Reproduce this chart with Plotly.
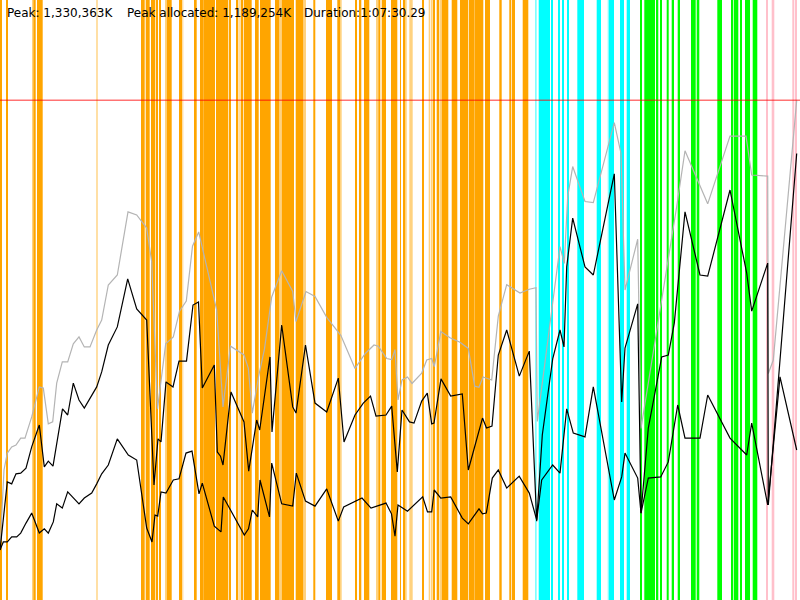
import plotly.graph_objects as go

# ---- data (time axis in sample units 0..800, memory in MB) ----
peak_k = 1330363
peak_alloc_k = 1189254
duration = "1:07:30.29"

peak_x = [0, 4, 7.3, 11.7, 16, 20.7, 25, 31.7, 39.3, 43.3,
          48.3, 52.7, 56.7, 62.3, 67.7, 73.3, 79, 84.3, 90, 96.7,
          101.7, 108.3, 117.3, 128, 136.7, 146.7, 151.7, 157.5, 165.7, 173.3,
          179.5, 186.3, 192.5, 198.7, 216.7, 223, 230.5, 244, 248.3, 252.3,
          258.5, 264.5, 271.7, 281.7, 292.7, 296, 306, 315, 326.7, 340.8,
          355, 365.3, 374, 378.3, 386.7, 391.7, 395, 398, 402, 407.5,
          412, 421.7, 426.7, 431.7, 434.3, 440.8, 450, 460, 468.3, 474.7,
          479, 483, 491.7, 498.3, 506.7, 520, 529.3, 536, 537.3, 560,
          564.3, 567.7, 572.7, 585, 593.3, 614.3, 621, 625, 637.7, 641,
          676.7, 685, 707.7, 730, 746, 751.7, 767.7, 768.3, 773.3, 796.7]
peak_mb = [130, 338, 382, 398, 403, 421, 421, 476, 554, 551,
           458, 463, 564, 619, 619, 666, 684, 658, 658, 702,
           728, 819, 845, 1009, 1001, 967, 879, 497, 666, 684,
           751, 777, 920, 957, 754, 502, 660, 637, 603, 486,
           580, 653, 788, 856, 802, 724, 802, 789, 735, 688,
           602, 641, 663, 660, 628, 625, 651, 520, 572, 580,
           563, 590, 624, 628, 607, 698, 682, 670, 654, 556,
           553, 580, 572, 738, 820, 798, 808, 812, 464, 919,
           875, 1049, 1127, 1036, 1033, 1241, 1161, 806, 938, 446,
           1023, 1168, 1030, 1206, 1206, 1105, 1102, 589, 624, 1299]

alloc_x = [0, 7.3, 11.7, 16, 20.7, 26, 31.7, 39.3, 44.3, 48.3,
           53, 62.5, 67.7, 73.3, 79, 84.3, 96.7, 101.7, 108.3, 117.3,
           127.7, 136.7, 146.7, 154, 158, 161, 166, 173, 179, 186.5,
           193, 198.5, 202.3, 214.3, 217.3, 220.5, 223, 231, 244, 248.7,
           256.7, 259.7, 270, 272, 281.7, 292.7, 296, 305.5, 315, 326.7,
           338.3, 344, 355, 363.3, 370.5, 376, 386, 391.7, 397.3, 402,
           409.5, 414, 421.7, 427.3, 431.7, 434, 441, 450.7, 462.3, 468.3,
           482.5, 486.5, 492, 498.3, 506.7, 519.3, 529.3, 536.7, 542.3, 552.7,
           560, 564, 566.7, 572.7, 585, 593.3, 614.3, 621.7, 625, 637.7,
           641, 648.3, 661.7, 668.3, 674.3, 685, 700, 707.7, 730, 746.7,
           751.7, 767.7, 768.3, 796.7]
alloc_mb = [130, 307, 302, 328, 330, 343, 398, 455, 346, 361,
            348, 497, 481, 564, 520, 499, 554, 593, 663, 710,
            835, 757, 728, 299, 419, 411, 567, 554, 621, 621,
            767, 775, 551, 611, 385, 374, 351, 541, 463, 335,
            468, 442, 632, 437, 715, 502, 486, 663, 512, 489,
            577, 411, 481, 512, 530, 478, 481, 504, 333, 494,
            463, 460, 517, 538, 458, 460, 575, 530, 536, 338,
            473, 447, 452, 637, 702, 582, 647, 205, 429, 627,
            702, 658, 866, 993, 866, 845, 1108, 515, 655, 770,
            226, 447, 632, 637, 720, 1009, 845, 842, 1066, 850,
            751, 876, 247, 1161]

low_x = [0, 3.3, 7.3, 11.7, 16.7, 20.7, 26, 31.7, 39.3, 44.3,
         48.3, 53.3, 56.7, 62.3, 67.7, 79, 84.3, 91.7, 96.7, 101.7,
         108.3, 117.3, 128.3, 136.7, 146.7, 152, 155, 157.7, 161, 166,
         173.3, 179, 186, 192, 199, 202.3, 214.3, 221, 223.3, 244.3,
         248.5, 252.3, 257.7, 260, 269.5, 271.7, 281.7, 292.7, 296.3, 305.5,
         315, 326.7, 338.3, 343.7, 362, 371, 386, 391.5, 395, 398,
         407.5, 422.7, 427.5, 431.7, 434.2, 440.8, 450.7, 462.3, 468.3, 479,
         482.5, 486.3, 492.3, 498.3, 506.7, 519.2, 529.3, 536.7, 541.7, 552.7,
         560, 566.7, 573.3, 585, 593.3, 614.3, 621.7, 625, 637.7, 641,
         648.3, 660.7, 668.3, 677.7, 685, 700, 707.7, 730, 746.7, 751.7,
         767.7, 780, 796.7]
low_mb = [130, 151, 151, 164, 164, 174, 200, 226, 174, 185,
          174, 203, 250, 239, 281, 250, 265, 278, 302, 328,
          351, 419, 377, 364, 187, 151, 221, 218, 281, 278,
          312, 315, 382, 387, 276, 304, 192, 177, 268, 169,
          185, 234, 216, 312, 216, 356, 250, 244, 330, 257,
          244, 289, 205, 242, 265, 239, 252, 224, 166, 247,
          231, 268, 229, 229, 286, 265, 268, 213, 198, 237,
          224, 226, 317, 338, 291, 322, 278, 208, 312, 351,
          330, 497, 434, 424, 554, 260, 320, 382, 317, 226,
          317, 320, 359, 507, 421, 421, 533, 421, 377, 460,
          247, 580, 390]

# event bands: start, end, kind
band_start = [0, 6, 32, 33.3, 37, 96.3, 141, 145.7, 151, 156.3,
              159, 165, 166.7, 179, 182.3, 194, 200, 203.3, 216, 229.3,
              236, 239.3, 241.7, 244, 255, 260, 275, 279.3, 281.7, 295.7,
              303.3, 313.3, 326, 330.7, 337.3, 340, 355, 359, 364, 376,
              378.3, 381.7, 391, 400, 403.3, 404.7, 409.3, 422.7, 428.7, 430.7,
              433.3, 436.7, 440, 441.7, 451.7, 460, 469, 474.3, 480, 485,
              499.3, 509.3, 512, 522.7,
              535, 538.7, 551.7, 558.3, 562, 567.3, 577.3, 596.7, 607.7, 609,
              620, 626.7,
              640, 644.3, 656, 660, 666.7, 671.7, 677.7, 691, 696.7, 717.3,
              731, 734, 740, 745, 752.7,
              766.7, 771.7, 792.3, 795.7]
band_end = [2, 7.3, 33.3, 35.7, 42.7, 97.7, 144.7, 149.7, 155.3, 158,
            161, 166.7, 171.7, 182, 183.3, 196.7, 203.3, 215, 228.3, 230.7,
            238.3, 240.7, 243.3, 251.7, 258.7, 270.7, 279.3, 281.7, 294, 303.3,
            306, 315.3, 330, 331.7, 340, 341.7, 356.7, 361.3, 369.3, 378.3,
            380.3, 386, 397.3, 401, 404.7, 406.7, 412.7, 424, 430, 432.7,
            435, 439.3, 441.7, 448.3, 457.3, 468.3, 474, 480, 483.3, 490,
            501.7, 511.3, 515, 528.3,
            536.7, 550, 552.7, 560, 564, 568.7, 584, 601, 609, 614,
            624, 630,
            641.7, 655, 658.3, 662, 668.7, 674, 680, 695.7, 699.3, 722,
            733.3, 738.3, 741.7, 750, 757.3,
            768, 774.3, 794.3, 796.7]
band_kind = ["o", "o", "o-", "o", "o", "o-", "o", "o", "o", "o",
             "o", "o-", "o", "o", "o-", "o", "o", "o", "o", "o",
             "o", "o-", "o", "o", "o", "o", "o", "o-", "o", "o",
             "o-", "o", "o", "o", "o", "o-", "o", "o", "o", "o-",
             "o", "o", "o", "o", "o", "o-", "o-", "o", "o-", "o-",
             "o", "o", "o-", "o", "o", "o", "o", "o", "o", "o",
             "o", "o", "o", "o",
             "c-", "c", "c", "c", "c", "c", "c", "c", "c-", "c",
             "c", "c",
             "g", "g", "g", "g", "g", "g", "g", "g", "g", "g",
             "g", "g", "g", "g", "g",
             "p", "p", "p", "p"]

kind_color = {
    "o": "rgba(255,165,0,1)", "o-": "rgba(255,165,0,0.5)",
    "c": "rgba(0,255,255,1)", "c-": "rgba(0,255,255,0.5)",
    "g": "rgba(0,255,0,1)", "p": "rgba(255,192,203,1)",
}

# ---- figure ----
Y_TOP = 1560
X_END = 800

fig = go.Figure()

centers = [(s + e) / 2 for s, e in zip(band_start, band_end)]
widths = [e - s for s, e in zip(band_start, band_end)]
fig.add_trace(go.Bar(
    x=centers, y=[Y_TOP] * len(centers), base=0, width=widths,
    marker=dict(color=[kind_color[k] for k in band_kind], line=dict(width=0)),
    hoverinfo="skip",
))

fig.add_trace(go.Scatter(x=peak_x, y=peak_mb, mode="lines",
                         line=dict(color="#b4b4b4", width=1.2)))
fig.add_trace(go.Scatter(x=alloc_x, y=alloc_mb, mode="lines",
                         line=dict(color="#000000", width=1.2)))
fig.add_trace(go.Scatter(x=low_x, y=low_mb, mode="lines",
                         line=dict(color="#000000", width=1.2)))

peak_level = peak_k / 1024
fig.add_trace(go.Scatter(x=[0, X_END], y=[peak_level, peak_level], mode="lines",
                         line=dict(color="rgba(255,0,0,0.55)", width=1.6)))

font = dict(family="DejaVu Sans", size=12, color="#000000")
texts = [
    ("Peak: {:,}K".format(peak_k), 5),
    ("Peak allocated: {:,}K".format(peak_alloc_k), 125),
    ("Duration:" + duration, 302),
]
for t, px in texts:
    fig.add_annotation(text=t, x=px / 800, y=1 - 13 / 600, xref="paper", yref="paper",
                       xanchor="left", yanchor="middle", showarrow=False, font=font)

fig.update_layout(
    width=800, height=600,
    margin=dict(l=0, r=0, t=0, b=0),
    paper_bgcolor="white", plot_bgcolor="white",
    showlegend=False, barmode="overlay",
    xaxis=dict(range=[0, X_END], visible=False, fixedrange=True),
    yaxis=dict(range=[0, Y_TOP], visible=False, fixedrange=True),
)

fig.write_html(
    "out.html",
    config={"displayModeBar": False},
    post_script="document.body.style.margin='0';document.body.style.padding='0';"
                "document.documentElement.style.overflow='hidden';",
)
